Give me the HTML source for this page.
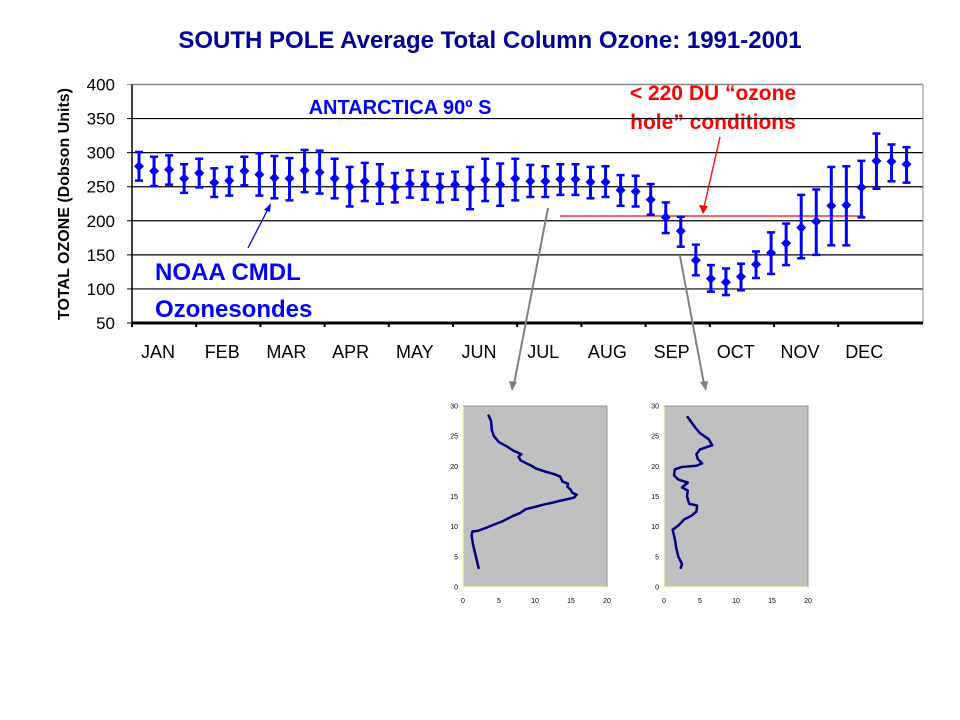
<!DOCTYPE html>
<html><head><meta charset="utf-8"><style>
html,body{margin:0;padding:0;background:#fff;}
svg{display:block;font-family:"Liberation Sans",Arial,sans-serif;}
</style></head><body>
<svg id="chart" width="960" height="720" viewBox="0 0 960 720">
<text x="490" y="48" text-anchor="middle" font-size="24" font-weight="bold" fill="#000099">SOUTH POLE  Average Total Column Ozone: 1991-2001</text>
<text transform="translate(69,204) rotate(-90)" text-anchor="middle" font-size="16" font-weight="bold" fill="#000">TOTAL OZONE (Dobson Units)</text>
<text x="400" y="114" text-anchor="middle" font-size="20" font-weight="bold" fill="#0000ff">ANTARCTICA 90º S</text>
<text x="155" y="280" font-size="24" font-weight="bold" fill="#0000ff">NOAA CMDL</text>
<text x="155" y="317" font-size="24" font-weight="bold" fill="#0000ff">Ozonesondes</text>
<text x="713" y="100" text-anchor="middle" font-size="21" font-weight="bold" fill="#ff0000">&lt; 220 DU “ozone</text>
<text x="713" y="129" text-anchor="middle" font-size="21" font-weight="bold" fill="#ff0000">hole” conditions</text>
<g id="main"></g>
<g id="insets"></g>
</svg>
<script>
const months=["JAN","FEB","MAR","APR","MAY","JUN","JUL","AUG","SEP","OCT","NOV","DEC"];
const yTicks=[50,100,150,200,250,300,350,400];
const ozoneMean=[280,273,275,262,270,256,259,273,268,263,262,274,271,262,250,258,254,249,254,253,250,253,248,260,253,262,258,258,261,261,257,257,245,243,231,205,185,142,115,110,118,136,153,167,190,199,222,223,249,288,287,283];
const ozoneHigh=[301,294,296,283,291,277,279,294,299,295,292,304,303,291,279,285,283,270,274,272,269,272,279,291,284,291,282,280,283,283,279,280,267,266,254,227,206,165,135,130,137,155,183,196,238,246,279,280,288,328,312,308];
const ozoneLow=[259,251,253,241,249,235,237,252,237,233,230,242,240,233,221,229,225,227,234,231,227,231,217,229,222,230,235,235,238,238,233,235,222,221,209,182,162,120,96,91,98,116,122,135,145,150,164,164,205,247,258,256];
const holeThreshold=207;
const profileJulyX=[2.2,1.8,1.4,1.2,1.3,2,3.2,4.2,5.5,6.3,7,8,8.7,10.1,11,12.5,13.5,15.4,15.8,15.2,14.9,14.5,14.6,13.8,13.5,12.7,11.5,10.2,9.5,8.8,8,7.7,8.1,7,6.1,5,4.3,4,3.9,3.5];
const profileJulyAlt=[3,5,7,8.5,9.2,9.3,9.8,10.3,10.9,11.4,11.8,12.3,12.9,13.3,13.6,14,14.3,14.8,15.3,15.6,16.2,16.6,17.1,17.5,18.3,18.7,19.1,19.6,20.1,20.5,21,21.6,22,22.6,23.3,24,25,26,27.5,28.6];
const profileSepX=[2.3,2.5,2,1.7,1.5,1.2,2,2.8,3.8,4.5,4.6,3.5,3.2,3.3,2.5,3.3,2,1.4,1.5,2.5,4.5,5.3,4.7,4.5,5,6.7,6.2,5,4.3,3.2];
const profileSepAlt=[3,3.8,5,6.5,8,9.5,10.2,11.2,11.8,12.5,13.5,13.8,15,16,16.5,17.3,17.8,18.5,19.5,19.9,20.1,20.5,21.2,22,22.8,23.5,24.5,25.5,26.5,28.3];
const insetXTicks=[0,5,10,15,20];
const insetYTicks=[0,5,10,15,20,25,30];

const NS="http://www.w3.org/2000/svg";
function mk(parent,tag,attrs){const e=document.createElementNS(NS,tag);for(const k in attrs)e.setAttribute(k,attrs[k]);parent.appendChild(e);return e;}
const L=132,R=923,T=84.5,B=323;
const yS=v=>B-(v-50)*(B-T)/350;
const xS=i=>139+i*15.05;
const g=document.getElementById('main');
yTicks.forEach(v=>{
  const ln=mk(g,'line',{x1:L,x2:R,y1:yS(v),y2:yS(v),stroke:'#000','stroke-width':1.2});
  
  
  mk(g,'line',{x1:L-5,x2:L,y1:yS(v),y2:yS(v),stroke:'#000'});
  const t=mk(g,'text',{x:115,y:yS(v)+6,'text-anchor':'end','font-size':17,fill:'#000'});
  t.textContent=v;
  
  
});
mk(g,'line',{x1:R,x2:R,y1:T,y2:B,stroke:'#888','stroke-width':1});
mk(g,'line',{x1:L-5,x2:R,y1:T,y2:T,stroke:'#888','stroke-width':1});
mk(g,'line',{x1:L,x2:L,y1:T,y2:B,stroke:'#000','stroke-width':1.5});
mk(g,'line',{x1:L,x2:R,y1:B,y2:B,stroke:'#000','stroke-width':3});
const monthW=(R-L)/12.3;
months.forEach((m,i)=>{
  const x0=L+i*64.2;
  mk(g,'line',{x1:x0,x2:x0,y1:B,y2:B+4,stroke:'#000','stroke-width':2});
  const t=mk(g,'text',{x:x0+26,y:358,'text-anchor':'middle','font-size':18,fill:'#000'});
  t.textContent=m;
  
  
});
// threshold line
const rl=mk(g,'line',{x1:560,x2:864,y1:yS(holeThreshold),y2:yS(holeThreshold),stroke:'#ff0000','stroke-width':1.3});


// error bars
ozoneMean.forEach((v,i)=>{
  const x=xS(i);
  const eb=mk(g,'g',{stroke:'#0000ff','stroke-width':3,fill:'#0000ff'});
  
  
  mk(eb,'line',{x1:x,x2:x,y1:yS(ozoneHigh[i]),y2:yS(ozoneLow[i])});
  mk(eb,'line',{x1:x-4,x2:x+4,y1:yS(ozoneHigh[i]),y2:yS(ozoneHigh[i]),'stroke-width':2.5});
  mk(eb,'line',{x1:x-4,x2:x+4,y1:yS(ozoneLow[i]),y2:yS(ozoneLow[i]),'stroke-width':2.5});
  const y=yS(v);
  const p=mk(g,'polygon',{points:`${x},${y-5} ${x+5},${y} ${x},${y+5} ${x-5},${y}`,fill:'#0000ff'});
  
  
});
// arrows
mk(g,'line',{x1:248,y1:248,x2:268,y2:209,stroke:'#0000ff','stroke-width':1.3});
mk(g,'polygon',{points:'271,203 264,210 270,212',fill:'#0000ff'});
mk(g,'line',{x1:720,y1:137,x2:704,y2:207,stroke:'#ff0000','stroke-width':1.3});
mk(g,'polygon',{points:'703,214 699,205 708,206',fill:'#ff0000'});
mk(g,'line',{x1:548,y1:208,x2:514,y2:384,stroke:'#808080','stroke-width':2});
mk(g,'polygon',{points:'512,391 509,381 517,382',fill:'#808080'});
mk(g,'line',{x1:680,y1:256,x2:704,y2:384,stroke:'#808080','stroke-width':2});
mk(g,'polygon',{points:'706,391 700,382 708,381',fill:'#808080'});
// insets
const gi=document.getElementById('insets');
function inset(x0,xs,ys,name){
  const x1=x0+144,y0=406,y1=587;
  const gg=mk(gi,'g',{});
  
  
  mk(gg,'rect',{x:x0,y:y0,width:x1-x0,height:y1-y0,fill:'#c0c0c0',stroke:'#808080','stroke-width':0.8});
  mk(gg,'line',{x1:x0,x2:x0,y1:y0,y2:y1,stroke:'#ffff99','stroke-width':1});
  mk(gg,'line',{x1:x0,x2:x1,y1:y1,y2:y1,stroke:'#ffff99','stroke-width':1});
  const sx=v=>x0+v*(x1-x0)/20, sy=v=>y1-v*(y1-y0)/30;
  insetXTicks.forEach(v=>{const t=mk(gg,'text',{x:sx(v),y:y1+16,'text-anchor':'middle','font-size':7,fill:'#000'});t.textContent=v;});
  insetYTicks.forEach(v=>{const t=mk(gg,'text',{x:x0-5,y:sy(v)+2.5,'text-anchor':'end','font-size':7,fill:'#000'});t.textContent=v;});
  const pts=xs.map((v,i)=>sx(v)+','+sy(ys[i])).join(' ');
  const pl=mk(gg,'polyline',{points:pts,fill:'none',stroke:'#000080','stroke-width':2.5,'stroke-linejoin':'round'});
  
  
}
inset(463,profileJulyX,profileJulyAlt,'july-profile-inset');
inset(664,profileSepX,profileSepAlt,'september-profile-inset');
</script>
</body></html>
